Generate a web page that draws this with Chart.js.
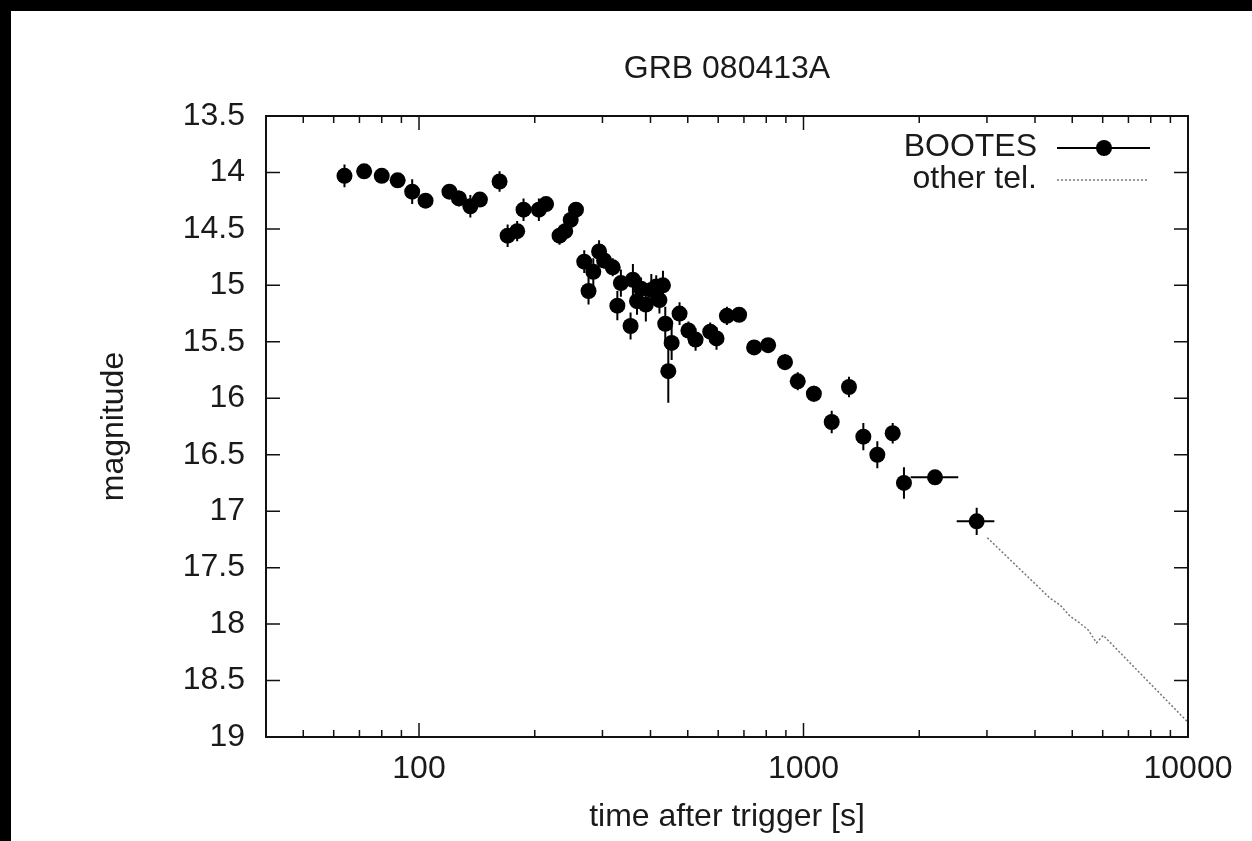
<!DOCTYPE html>
<html>
<head>
<meta charset="utf-8">
<script src="https://cdn.jsdelivr.net/npm/chart.js@4.4.1/dist/chart.umd.min.js"></script>
<style>
  html, body { margin: 0; padding: 0; background: #000; }
  #wrap { position: absolute; left: 11px; top: 11px; width: 1241px; height: 830px; background: #fff; }
</style>
</head>
<body>
<div id="wrap"><canvas id="grb"></canvas></div>
<script>
// BOOTES photometry: time after trigger [s], magnitude, 1-sigma error
const bootesTime = [64, 72, 80, 88, 96, 104, 120, 127, 136, 144,
  162, 170, 180, 187, 205, 214, 232, 240, 248, 256,
  269, 276, 284, 294, 303, 319, 328, 335, 355, 360,
  369, 378, 389, 402, 414, 422, 431, 437, 445, 454,
  476, 502, 524, 572, 594, 632, 680, 744, 809, 895,
  966, 1064, 1184, 1313, 1431, 1556, 1706, 1825, 2198, 2821];
const bootesMag = [14.03, 13.99, 14.03, 14.07, 14.17, 14.25, 14.17, 14.23, 14.30, 14.24,
  14.08, 14.56, 14.52, 14.33, 14.33, 14.28, 14.56, 14.52, 14.42, 14.33,
  14.79, 15.05, 14.88, 14.70, 14.78, 14.84, 15.18, 14.98, 15.36, 14.95,
  15.14, 15.03, 15.17, 15.04, 15.01, 15.13, 15.00, 15.34, 15.76, 15.51,
  15.25, 15.40, 15.48, 15.41, 15.47, 15.27, 15.26, 15.55, 15.53, 15.68,
  15.85, 15.96, 16.21, 15.90, 16.34, 16.50, 16.31, 16.75, 16.70, 17.09];
const bootesErr = [0.10, 0.04, 0.04, 0.05, 0.11, 0.06, 0.05, 0.07, 0.10, 0.06,
  0.09, 0.10, 0.09, 0.10, 0.10, 0.06, 0.08, 0.08, 0.07, 0.06,
  0.10, 0.12, 0.12, 0.10, 0.07, 0.08, 0.13, 0.12, 0.12, 0.14,
  0.12, 0.10, 0.15, 0.14, 0.10, 0.12, 0.13, 0.15, 0.28, 0.15,
  0.10, 0.08, 0.10, 0.08, 0.10, 0.08, 0.05, 0.05, 0.06, 0.07,
  0.08, 0.07, 0.10, 0.09, 0.12, 0.12, 0.09, 0.14, 0.05, 0.12];
// exposure span of the two stacked frames (others have none)
const bootesTimeLo = { 58: 1900, 59: 2503 };
const bootesTimeHi = { 58: 2526, 59: 3136 };

// other telescopes
const otherTime = [3006, 4375, 4645, 4931, 5181, 5492, 5783, 6018, 10000];
const otherMag = [17.235, 17.77, 17.83, 17.93, 17.98, 18.05, 18.165, 18.10, 18.87];

const xTicks = [50, 60, 70, 80, 90, 100, 200, 300, 400, 500, 600, 700, 800, 900,
  1000, 2000, 3000, 4000, 5000, 6000, 7000, 8000, 9000, 10000];
const xTickLabels = [100, 1000, 10000];
const yTicks = [13.5, 14, 14.5, 15, 15.5, 16, 16.5, 17, 17.5, 18, 18.5, 19];

const ink = "#1a1a1a";
Chart.defaults.font.family = "'Liberation Sans', Arial, sans-serif";
Chart.defaults.font.size = 32;
Chart.defaults.color = ink;

// vertical / horizontal error bars under the dots
const errorBars = {
  id: "errorBars",
  beforeDatasetsDraw(chart) {
    const { ctx, scales: { x, y } } = chart;
    ctx.save();
    ctx.strokeStyle = "#000";
    ctx.lineWidth = 2;
    ctx.beginPath();
    bootesTime.forEach(function (t, i) {
      const px = x.getPixelForValue(t);
      const py = y.getPixelForValue(bootesMag[i]);
      ctx.moveTo(px, y.getPixelForValue(bootesMag[i] - bootesErr[i]));
      ctx.lineTo(px, y.getPixelForValue(bootesMag[i] + bootesErr[i]));
      if (bootesTimeLo[i] !== undefined) {
        ctx.moveTo(x.getPixelForValue(bootesTimeLo[i]), py);
        ctx.lineTo(x.getPixelForValue(bootesTimeHi[i]), py);
      }
    });
    ctx.stroke();
    ctx.restore();
  },
};

// gnuplot-like frame with inward ticks on all four sides, plus the key
const frame = {
  id: "frame",
  afterDraw(chart) {
    const { ctx, chartArea: a, scales: { x, y } } = chart;
    ctx.save();
    ctx.strokeStyle = "#111";
    ctx.lineWidth = 1.5;
    ctx.beginPath();
    xTicks.forEach(function (v) {
      const px = x.getPixelForValue(v);
      const len = xTickLabels.includes(v) ? 14 : 7;
      ctx.moveTo(px, a.bottom); ctx.lineTo(px, a.bottom - len);
      ctx.moveTo(px, a.top); ctx.lineTo(px, a.top + len);
    });
    yTicks.forEach(function (v) {
      const py = y.getPixelForValue(v);
      ctx.moveTo(a.left, py); ctx.lineTo(a.left + 14, py);
      ctx.moveTo(a.right, py); ctx.lineTo(a.right - 14, py);
    });
    ctx.stroke();
    ctx.lineWidth = 2;
    ctx.strokeRect(a.left, a.top, a.right - a.left, a.bottom - a.top);

    // key
    const ds = chart.data.datasets;
    ctx.font = "32px 'Liberation Sans', Arial, sans-serif";
    ctx.fillStyle = ink;
    ctx.textAlign = "right";
    ctx.textBaseline = "alphabetic";
    ctx.fillText(ds[0].label, a.right - 151, a.top + 40);
    ctx.fillText(ds[1].label, a.right - 151, a.top + 72);

    ctx.strokeStyle = "#000";
    ctx.lineWidth = 2;
    ctx.beginPath();
    ctx.moveTo(a.right - 131, a.top + 32);
    ctx.lineTo(a.right - 38, a.top + 32);
    ctx.stroke();
    ctx.fillStyle = "#000";
    ctx.beginPath();
    ctx.arc(a.right - 84, a.top + 32, 8, 0, Math.PI * 2);
    ctx.fill();

    ctx.strokeStyle = ds[1].borderColor;
    ctx.lineWidth = ds[1].borderWidth;
    ctx.setLineDash(ds[1].borderDash);
    ctx.beginPath();
    ctx.moveTo(a.right - 131, a.top + 64);
    ctx.lineTo(a.right - 40, a.top + 64);
    ctx.stroke();
    ctx.restore();
  },
};

const ctx = document.getElementById("grb").getContext("2d");
const myChart = new Chart(ctx, {
  type: "scatter",
  data: {
    datasets: [
      {
        label: "BOOTES",
        data: bootesTime.map(function (t, i) { return { x: t, y: bootesMag[i] }; }),
        pointRadius: 8,
        pointBackgroundColor: "#000",
        pointBorderWidth: 0,
        showLine: false,
      },
      {
        type: "line",
        label: "other tel.",
        data: otherTime.map(function (t, i) { return { x: t, y: otherMag[i] }; }),
        borderColor: "#777",
        borderWidth: 1.5,
        borderDash: [2, 2],
        pointRadius: 0,
        fill: false,
        tension: 0,
      },
    ],
  },
  options: {
    responsive: true,
    maintainAspectRatio: false,
    animation: false,
    layout: { padding: { left: 0, top: 0, right: 64, bottom: 0 } },
    plugins: {
      legend: { display: false },
      tooltip: { enabled: false },
      title: {
        display: true,
        text: "GRB 080413A",
        fullSize: false,
        color: ink,
        font: { size: 32, weight: "normal", lineHeight: 1.2 },
        padding: { top: 39, bottom: 27.6 },
      },
    },
    scales: {
      x: {
        type: "logarithmic",
        min: 40,
        max: 10000,
        grid: { display: false },
        border: { display: false },
        afterBuildTicks: function (scale) {
          scale.ticks = xTicks.map(function (v) { return { value: v }; });
        },
        afterFit: function (scale) { scale.height = 104; },
        ticks: {
          autoSkip: false,
          maxRotation: 0,
          padding: 5,
          callback: function (v) { return xTickLabels.includes(v) ? String(v) : ""; },
        },
        title: {
          display: true,
          text: "time after trigger [s]",
          font: { size: 32, lineHeight: 1.2 },
          padding: { top: 0, bottom: 5 },
        },
      },
      y: {
        type: "linear",
        reverse: true,
        min: 13.5,
        max: 19,
        grid: { display: false },
        border: { display: false },
        afterBuildTicks: function (scale) {
          scale.ticks = yTicks.map(function (v) { return { value: v }; });
        },
        afterFit: function (scale) { scale.width = 255; },
        ticks: {
          padding: 13,
          callback: function (v) { return String(v); },
        },
        title: {
          display: true,
          text: "magnitude",
          font: { size: 32, lineHeight: 1.2 },
          padding: { top: 84, bottom: 0 },
        },
      },
    },
  },
  plugins: [errorBars, frame],
});
</script>
</body>
</html>
